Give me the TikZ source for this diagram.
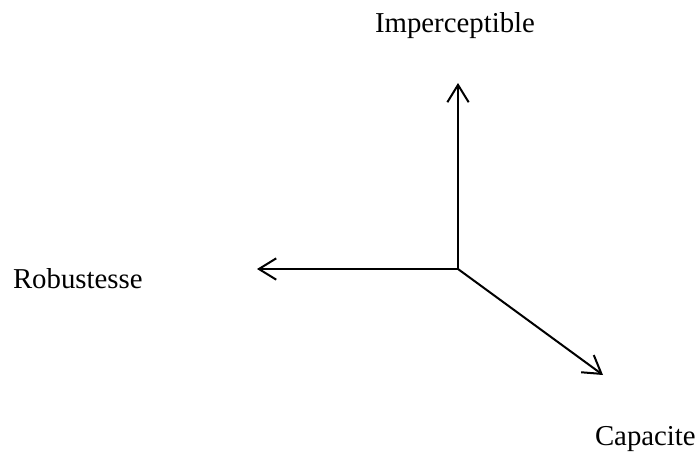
\documentclass[tikz,border=0pt]{standalone}
\usepackage{fontspec}
\setmainfont{Liberation Serif}
\usetikzlibrary{arrows.meta,positioning}
\tikzset{%
   axis/.style={line width=1.5pt, -{Straight Barb[length=13pt, width=16pt, line width=1.5pt]}},
   lbl/.style={inner sep=0pt, outer sep=0pt, font=\fontsize{21.6}{26}\selectfont},
}
\begin{document}
\begin{tikzpicture}[x=0.75pt, y=-0.75pt]
   \useasboundingbox (0,0) rectangle (698,454);
   \coordinate (O) at (458,269);
   \coordinate (imp) at (458,83);
   \coordinate (rob) at (257,269);
   \coordinate (cap) at (603,375);
   \draw[axis] (O) -- (imp);
   \draw[axis] (O) -- (rob);
   \draw[axis] (O) -- (cap);
   \node[lbl, anchor=base] (Imp) at (455,32) {Imperceptible};
   \node[lbl, anchor=base west] (Rob) at (13,288) {Robustesse};
   \node[lbl, anchor=base west] (Cap) at (595,445) {Capacite};
\end{tikzpicture}
\end{document}
